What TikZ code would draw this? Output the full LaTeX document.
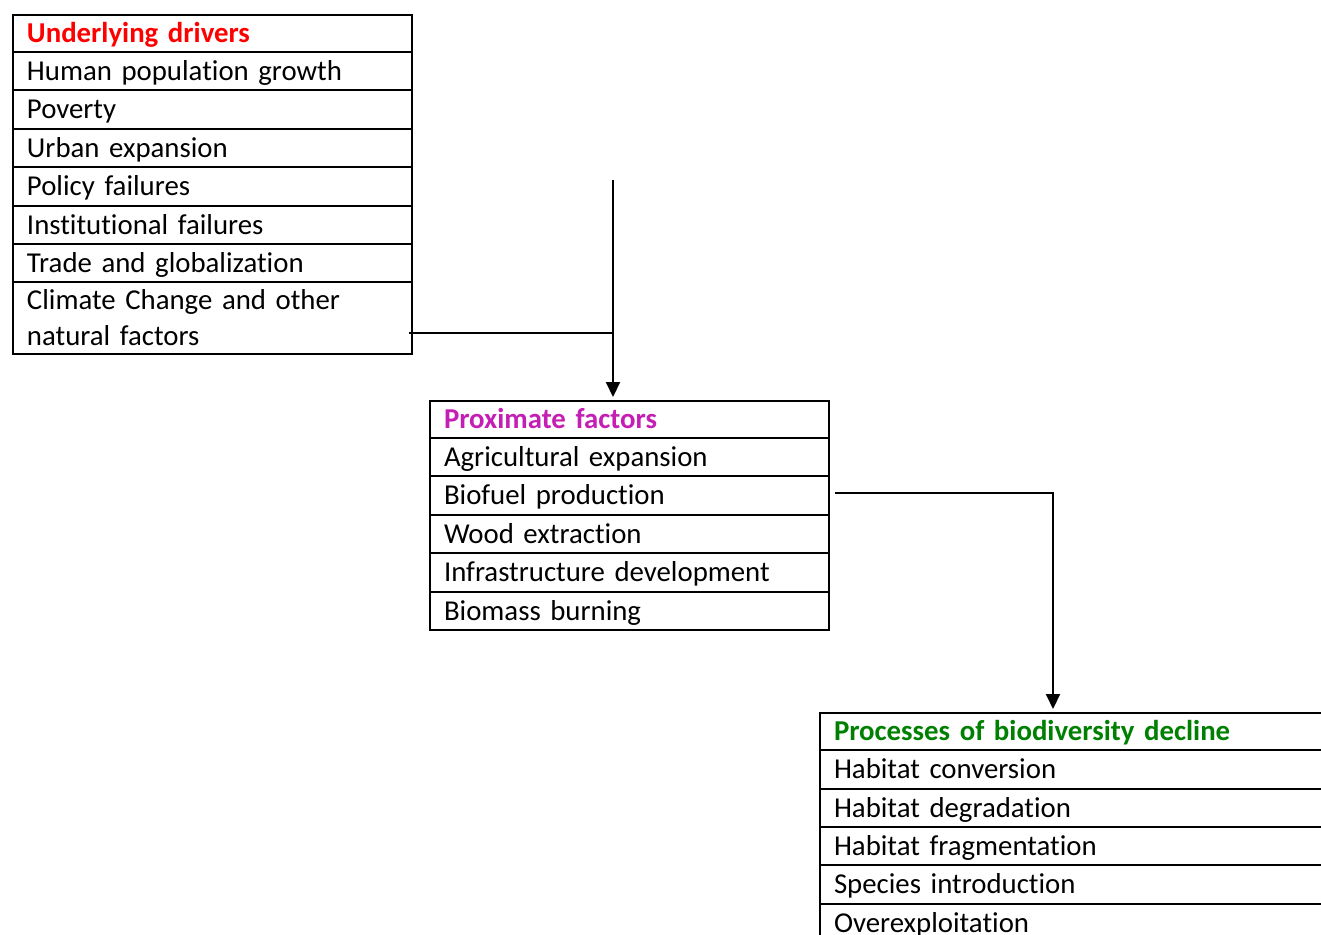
\documentclass[tikz,border=0pt]{standalone}
\usepackage{fontspec}
\setmainfont{Carlito}[Ligatures=NoCommon]
\usetikzlibrary{arrows.meta}
\definecolor{hred}{RGB}{255,0,0}
\definecolor{hmag}{RGB}{196,30,180}
\definecolor{hgreen}{RGB}{0,128,0}
\tikzset{
  cell/.style={draw, line width=2pt, anchor=north west, inner xsep=14pt, inner ysep=2pt,
    text width=#1, align=left, text height=23pt, text depth=5pt,
    font=\fontsize{28.8}{36}\selectfont},
  conn/.style={line width=2pt},
  arr/.style={line width=2pt, -{Triangle[width=14pt,length=15pt]}},
}
\begin{document}
\begin{tikzpicture}[x=1pt,y=-1pt]
\useasboundingbox (0,0) rectangle (1321,934);
\clip (0,0) rectangle (1321,934);
% Table 1
\node[cell=371pt, minimum height=37pt, text=hred, font=\fontsize{28.8}{36}\selectfont\bfseries] (u0) at (12,14) {Underlying drivers};
\node[cell=371pt, minimum height=38pt] (u1) at (12,51) {Human population growth};
\node[cell=371pt, minimum height=39pt] (u2) at (12,89) {Poverty};
\node[cell=371pt, minimum height=38pt] (u3) at (12,128) {Urban expansion};
\node[cell=371pt, minimum height=39pt] (u4) at (12,166) {Policy failures};
\node[cell=371pt, minimum height=38pt] (u5) at (12,205) {Institutional failures};
\node[cell=371pt, minimum height=38pt] (u6) at (12,243) {Trade and globalization};
\node[cell=371pt, minimum height=72pt, text depth=40pt] (u7) at (12,281) {Climate Change and other\\natural factors};
% Table 2
\node[cell=371pt, minimum height=37pt, text=hmag, font=\fontsize{28.8}{36}\selectfont\bfseries] (p0) at (429,400) {Proximate factors};
\node[cell=371pt, minimum height=38pt] (p1) at (429,437) {Agricultural expansion};
\node[cell=371pt, minimum height=39pt] (p2) at (429,475) {Biofuel production};
\node[cell=371pt, minimum height=38pt] (p3) at (429,514) {Wood extraction};
\node[cell=371pt, minimum height=39pt] (p4) at (429,552) {Infrastructure development};
\node[cell=371pt, minimum height=38pt] (p5) at (429,591) {Biomass burning};
% Table 3
\node[cell=490pt, minimum height=37pt, text=hgreen, font=\fontsize{28.8}{36}\selectfont\bfseries] (b0) at (819,712) {Processes of biodiversity decline};
\node[cell=490pt, minimum height=39pt] (b1) at (819,749) {Habitat conversion};
\node[cell=490pt, minimum height=38pt] (b2) at (819,788) {Habitat degradation};
\node[cell=490pt, minimum height=38pt] (b3) at (819,826) {Habitat fragmentation};
\node[cell=490pt, minimum height=39pt] (b4) at (819,864) {Species introduction};
\node[cell=490pt, minimum height=38pt] (b5) at (819,903) {Overexploitation};
% Connectors
\coordinate (s1) at (613,180);
\coordinate (j1) at (613,333);
\draw[conn] ([xshift=-4pt]u7.east |- j1) -- (j1);
\draw[arr, shorten >=3pt] (s1) -- (s1 |- p0.north);
\coordinate (j2) at (1053,493);
\draw[arr, shorten >=3pt] ([xshift=5pt]p2.east |- j2) -- (j2) -- (j2 |- b0.north);
\end{tikzpicture}
\end{document}
